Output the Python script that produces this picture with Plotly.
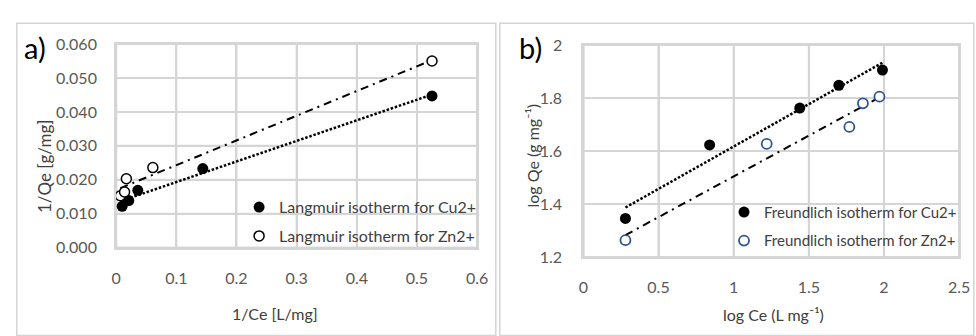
import numpy as np
import plotly.graph_objects as go

W, H = 976, 336

# ---- data: panel a (Langmuir) ----
a_cu_x = [0.010, 0.021, 0.036, 0.144, 0.525]
a_cu_y = [0.0122, 0.0139, 0.0169, 0.0233, 0.0447]
a_zn_x = [0.007, 0.014, 0.017, 0.061, 0.525]
a_zn_y = [0.0153, 0.0164, 0.0203, 0.0236, 0.0550]
a_xticks = [0, 0.1, 0.2, 0.3, 0.4, 0.5, 0.6]
a_yticks = [0, 0.01, 0.02, 0.03, 0.04, 0.05, 0.06]

# ---- data: panel b (Freundlich) ----
b_cu_x = [0.28, 0.84, 1.44, 1.70, 1.99]
b_cu_y = [1.346, 1.623, 1.762, 1.848, 1.905]
b_zn_x = [0.28, 1.22, 1.77, 1.86, 1.97]
b_zn_y = [1.264, 1.627, 1.691, 1.780, 1.805]
b_xticks = [0, 0.5, 1, 1.5, 2, 2.5]
b_yticks = [1.2, 1.4, 1.6, 1.8, 2.0]

FONT = "Lato"
TICK_C = "#595959"
TITLE_C = "#404040"
GRID_C = "#d5d5d5"
BLUE = "#2f5597"


def px_x(p):
    return p / W


def px_y(p):
    return 1 - p / H


def fit(xs, ys):
    k, b = np.polyfit(xs, ys, 1)
    xx = np.array([min(xs), max(xs)])
    return xx, k * xx + b


fig = go.Figure()

# panel a
xx, yy = fit(a_cu_x, a_cu_y)
fig.add_trace(go.Scatter(x=xx, y=yy, mode="lines", xaxis="x", yaxis="y",
                         line=dict(color="black", width=2.5, dash="2.5px,1.8px"),
                         showlegend=False, legendgroup="acu"))
xx, yy = fit(a_zn_x, a_zn_y)
fig.add_trace(go.Scatter(x=xx, y=yy, mode="lines", xaxis="x", yaxis="y",
                         line=dict(color="black", width=2, dash="8px,5px,2px,5px"),
                         showlegend=False, legendgroup="azn"))
fig.add_trace(go.Scatter(x=a_cu_x, y=a_cu_y, mode="markers", xaxis="x", yaxis="y",
                         name="Langmuir isotherm for Cu2+", legend="legend", legendgroup="acu",
                         marker=dict(symbol="circle", size=11, color="black")))
fig.add_trace(go.Scatter(x=a_zn_x, y=a_zn_y, mode="markers", xaxis="x", yaxis="y",
                         name="Langmuir isotherm for Zn2+", legend="legend", legendgroup="azn",
                         marker=dict(symbol="circle", size=10, color="white",
                                     line=dict(color="black", width=1.5))))

# panel b
xx, yy = fit(b_cu_x, b_cu_y)
fig.add_trace(go.Scatter(x=xx, y=yy, mode="lines", xaxis="x2", yaxis="y2",
                         line=dict(color="black", width=2.5, dash="2.5px,1.8px"),
                         showlegend=False, legendgroup="bcu"))
xx, yy = fit(b_zn_x, b_zn_y)
fig.add_trace(go.Scatter(x=xx, y=yy, mode="lines", xaxis="x2", yaxis="y2",
                         line=dict(color="black", width=2, dash="8px,5px,2px,5px"),
                         showlegend=False, legendgroup="bzn"))
fig.add_trace(go.Scatter(x=b_cu_x, y=b_cu_y, mode="markers", xaxis="x2", yaxis="y2",
                         name="Freundlich isotherm for Cu2+", legend="legend2", legendgroup="bcu",
                         marker=dict(symbol="circle", size=11, color="black")))
fig.add_trace(go.Scatter(x=b_zn_x, y=b_zn_y, mode="markers", xaxis="x2", yaxis="y2",
                         name="Freundlich isotherm for Zn2+", legend="legend2", legendgroup="bzn",
                         marker=dict(symbol="circle", size=10, color="white",
                                     line=dict(color=BLUE, width=1.8))))

axis_common = dict(showgrid=True, gridcolor=GRID_C, gridwidth=2, zeroline=False,
                   showline=True, linecolor=GRID_C, linewidth=2, mirror=True,
                   ticks="", tickfont=dict(family=FONT, size=16, color=TICK_C))

# grid lines drawn along each axis's tick values (ensures visible grid)
grid_shapes = []
for xr, yr, xt, yt in [("x", "y", a_xticks, a_yticks), ("x2", "y2", b_xticks, b_yticks)]:
    for v in xt:
        grid_shapes.append(dict(type="line", xref=xr, yref=f"{yr} domain", x0=v, x1=v,
                                y0=0, y1=1, layer="below",
                                line=dict(color=GRID_C, width=2)))
    for v in yt:
        grid_shapes.append(dict(type="line", xref=f"{xr} domain", yref=yr, x0=0, x1=1,
                                y0=v, y1=v, layer="below",
                                line=dict(color=GRID_C, width=2)))
    grid_shapes.append(dict(type="rect", xref=f"{xr} domain", yref=f"{yr} domain",
                            x0=0, x1=1, y0=0, y1=1, layer="below",
                            line=dict(color=GRID_C, width=2)))

fig.update_layout(
    width=W, height=H, margin=dict(l=0, r=0, t=0, b=0),
    paper_bgcolor="white", plot_bgcolor="white",
    font=dict(family=FONT, color=TITLE_C),
    xaxis=dict(domain=[px_x(113), px_x(480)], range=[0, 0.6], tickvals=a_xticks,
               ticktext=[f"{v:g}" for v in a_xticks], anchor="y",
               ticklabelstandoff=15, **axis_common),
    yaxis=dict(domain=[px_y(252), px_y(36)], range=[0, 0.06], tickvals=a_yticks,
               ticktext=[f"{v:.3f}" for v in a_yticks], anchor="x",
               ticklabelstandoff=14, **axis_common),
    xaxis2=dict(domain=[px_x(588), px_x(970)], range=[0, 2.5], tickvals=b_xticks,
                ticktext=[f"{v:g}" for v in b_xticks], anchor="y2",
                ticklabelstandoff=15, **axis_common),
    yaxis2=dict(domain=[px_y(262), px_y(37)], range=[1.2, 2.0], tickvals=b_yticks,
                ticktext=[f"{v:g}" for v in b_yticks], anchor="x2",
                ticklabelstandoff=16, **axis_common),
    legend=dict(x=px_x(238), y=px_y(191), xanchor="left", yanchor="top",
                bgcolor="rgba(0,0,0,0)", tracegroupgap=5,
                font=dict(family=FONT, size=16, color=TITLE_C)),
    legend2=dict(x=px_x(731), y=px_y(197), xanchor="left", yanchor="top",
                 bgcolor="rgba(0,0,0,0)", tracegroupgap=6,
                 font=dict(family=FONT, size=15, color=TITLE_C)),
    shapes=[
        dict(type="rect", xref="paper", yref="paper", x0=px_x(12), x1=px_x(499),
             y0=px_y(345), y1=px_y(14), layer="below",
             line=dict(color="#d4d4d4", width=1.5)),
        dict(type="rect", xref="paper", yref="paper", x0=px_x(503), x1=px_x(985),
             y0=px_y(345), y1=px_y(14), layer="below",
             line=dict(color="#d4d4d4", width=1.5)),
    ] + grid_shapes,
    annotations=[
        dict(text="a)", xref="paper", yref="paper", x=px_x(17), y=px_y(40),
             xanchor="left", yanchor="middle", showarrow=False,
             font=dict(family=FONT, size=29, color="black")),
        dict(text="b)", xref="paper", yref="paper", x=px_x(521), y=px_y(40),
             xanchor="left", yanchor="middle", showarrow=False,
             font=dict(family=FONT, size=29, color="black")),
        dict(text="1/Qe [g/mg]", xref="paper", yref="paper", x=px_x(40), y=px_y(165),
             xanchor="center", yanchor="middle", showarrow=False, textangle=-90,
             font=dict(family=FONT, size=17, color=TITLE_C)),
        dict(text="1/Ce [L/mg]", xref="paper", yref="paper", x=px_x(274), y=px_y(322),
             xanchor="center", yanchor="middle", showarrow=False,
             font=dict(family=FONT, size=16, color=TITLE_C)),
        dict(text="log Qe (g mg\u207b\u00b9)", xref="paper", yref="paper", x=px_x(536), y=px_y(154),
             xanchor="center", yanchor="middle", showarrow=False, textangle=-90,
             font=dict(family=FONT, size=16, color=TITLE_C)),
        dict(text="log Ce (L mg\u207b\u00b9)", xref="paper", yref="paper", x=px_x(781), y=px_y(323),
             xanchor="center", yanchor="middle", showarrow=False,
             font=dict(family=FONT, size=16, color=TITLE_C)),
    ],
)

fig.write_html("out.html")
